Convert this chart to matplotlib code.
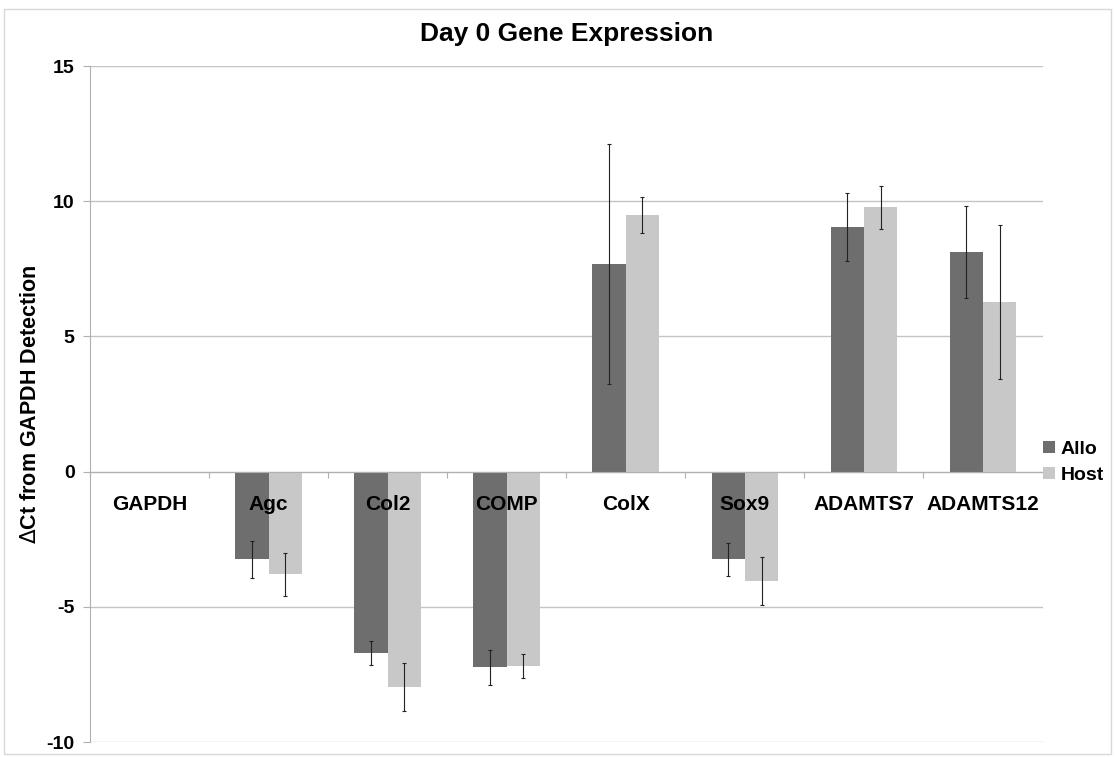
import matplotlib.pyplot as plt
from matplotlib.patches import Rectangle
import numpy as np

plt.rcParams['font.family'] = ['Liberation Sans', 'DejaVu Sans']

# datos
genes = ["GAPDH", "Agc", "Col2", "COMP", "ColX", "Sox9", "ADAMTS7", "ADAMTS12"]
allo = [0.0, -3.25, -6.7, -7.23, 7.67, -3.25, 9.04, 8.12]
allo_err = [0.0, 0.7, 0.45, 0.65, 4.43, 0.6, 1.25, 1.7]
host = [0.0, -3.8, -7.97, -7.2, 9.48, -4.05, 9.78, 6.27]
host_err = [0.0, 0.8, 0.9, 0.45, 0.67, 0.9, 0.8, 2.85]
yticks = [-10, -5, 0, 5, 10, 15]

x = np.arange(len(genes))
w = 0.28

fig = plt.figure(figsize=(11.15, 7.57), dpi=100)
ax = fig.add_axes([0.0807, 0.0198, 0.8543, 0.893])

# borde de la figura
fig.patches.append(Rectangle((0.004, 0.004), 0.992, 0.984, transform=fig.transFigure,
                             fill=False, edgecolor="#d8d8d8", linewidth=1))

ax.bar(x - w/2, allo, w, color="#6e6e6e", label="Allo", zorder=2)
ax.bar(x + w/2, host, w, color="#c8c8c8", label="Host", zorder=2)

# sin barras de error donde no hay error (GAPDH)
ea = np.array(allo_err) > 0
eh = np.array(host_err) > 0
ax.errorbar((x - w/2)[ea], np.array(allo)[ea], yerr=np.array(allo_err)[ea], fmt="none",
            ecolor="#222222", elinewidth=0.8, capsize=1.2, capthick=0.8, zorder=3)
ax.errorbar((x + w/2)[eh], np.array(host)[eh], yerr=np.array(host_err)[eh], fmt="none",
            ecolor="#222222", elinewidth=0.8, capsize=1.2, capthick=0.8, zorder=3)

ax.set_ylim(-10, 15)
ax.set_xlim(-0.5, len(genes) - 0.5)
ax.set_yticks(yticks)
ax.set_yticklabels([str(t) for t in yticks], fontsize=14, fontweight="bold")
ax.yaxis.grid(True, color="#c4c4c4", linewidth=1, zorder=0)
ax.set_axisbelow(True)

# eje x en cero con marcas entre categorias
ax.spines['bottom'].set_position(('data', 0))
ax.spines['bottom'].set_color("#b0b0b0")
ax.spines['top'].set_visible(False)
ax.spines['right'].set_visible(False)
ax.spines['left'].set_color("#b0b0b0")
ax.set_xticks(np.arange(len(genes) + 1) - 0.5)
ax.set_xticklabels([])
ax.tick_params(axis="x", length=4, color="#b0b0b0")
ax.tick_params(axis="y", length=5, color="#b0b0b0", pad=6)

for i, g in enumerate(genes):
    ax.text(i, -1.2, g, ha="center", va="center", fontsize=15,
            fontweight="bold", zorder=4)

ax.set_ylabel(r"$\Delta$Ct from GAPDH Detection", fontsize=15.5, fontweight="bold",
              labelpad=4)
ax.set_title("Day 0 Gene Expression", fontsize=19, fontweight="bold", pad=18)

ax.legend(loc="center left", bbox_to_anchor=(0.982, 0.414), frameon=False,
          handlelength=0.6, handleheight=0.6, handletextpad=0.3,
          labelspacing=0.45, prop={"weight": "bold", "size": 14})

fig.savefig("out.png", dpi=100)
